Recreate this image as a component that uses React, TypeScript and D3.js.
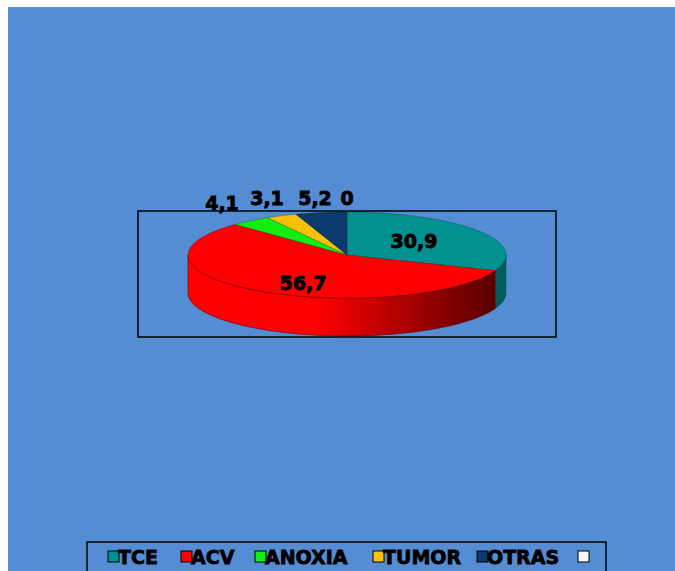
import React from "react";
import * as d3 from "d3";

const categories = ["TCE", "ACV", "ANOXIA", "TUMOR", "OTRAS", ""];
const values = [30.9, 56.7, 4.1, 3.1, 5.2, 0];
const labels = ["30,9", "56,7", "4,1", "3,1", "5,2", "0"];
const colors = ["#009190", "#ff0000", "#12ee12", "#f7c10a", "#0b3b6e", "#f2f8fc"];
const wallDark = ["#005c5c", "#5c0000", "#0a8a0a", "#9a7800", "#06203d", "#c0c0c0"];

const W = 675, H = 571;
const cx = 347, cy = 255, rx = 159, ry = 43, depth = 38;

function pt(theta: number, dy = 0): [number, number] {
  return [cx + rx * Math.sin(theta), cy - ry * Math.cos(theta) + dy];
}

function topPath(a0: number, a1: number) {
  const n = Math.max(2, Math.ceil(((a1 - a0) / (Math.PI * 2)) * 180));
  const pts: [number, number][] = [[cx, cy]];
  for (let i = 0; i <= n; i++) pts.push(pt(a0 + ((a1 - a0) * i) / n));
  return d3.line()(pts) + "Z";
}

function wallPath(a0: number, a1: number) {
  const n = Math.max(2, Math.ceil(((a1 - a0) / (Math.PI * 2)) * 180));
  const pts: [number, number][] = [];
  for (let i = 0; i <= n; i++) pts.push(pt(a0 + ((a1 - a0) * i) / n));
  for (let i = n; i >= 0; i--) pts.push(pt(a0 + ((a1 - a0) * i) / n, depth));
  return d3.line()(pts) + "Z";
}

const labelPos: [number, number][] = [
  [414, 248], [303, 290], [222, 210], [267, 205], [315, 205], [347, 205],
];

const legendX = [108, 181, 255, 373, 477, 578];

export default function App() {
  const pie = d3.pie<number>().sort(null).value((d) => d)(values);
  const front0 = Math.PI / 2, front1 = (Math.PI * 3) / 2;
  return (
    <svg width={W} height={H} style={{ position: "absolute", left: 0, top: 0 }}>
      <defs>
        {values.map((_, i) => (
          <linearGradient key={i} id={`g${i}`} gradientUnits="userSpaceOnUse" x1={cx - rx} x2={cx + rx} y1={0} y2={0}>
            <stop offset="0" stopColor={colors[i]} />
            <stop offset="0.4" stopColor={colors[i]} />
            <stop offset="0.95" stopColor={wallDark[i]} />
          </linearGradient>
        ))}
      </defs>
      <rect x={0} y={0} width={W} height={H} fill="#fff" />
      <rect x={8} y={7} width={W - 8} height={H - 7} fill="#558dd5" />
      <rect x={138} y={211} width={418} height={126} fill="none" stroke="#000" strokeWidth={1.5} />
      {pie.map((s, i) => {
        const a0 = Math.max(s.startAngle, front0), a1 = Math.min(s.endAngle, front1);
        if (a1 <= a0) return null;
        return <path key={"w" + i} d={wallPath(a0, a1)} fill={`url(#g${i})`} stroke={wallDark[i]} strokeWidth={0.6} />;
      })}
      {pie.map((s, i) =>
        s.endAngle > s.startAngle ? (
          <path key={"t" + i} d={topPath(s.startAngle, s.endAngle)} fill={colors[i]} stroke="rgba(0,0,0,0.35)" strokeWidth={0.6} />
        ) : null
      )}
      {labels.map((l, i) => (
        <text key={"l" + i} x={labelPos[i][0]} y={labelPos[i][1]} textAnchor="middle"
          fontFamily="DejaVu Sans" fontWeight="bold" fontSize={19} fill="#000"
          stroke="#000" strokeWidth={0.9}>{l}</text>
      ))}
      <rect x={87} y={542} width={519} height={40} fill="none" stroke="#000" strokeWidth={1.5} />
      {categories.map((c, i) => (
        <g key={"lg" + i}>
          <rect x={legendX[i]} y={551} width={11} height={11} fill={colors[i]} stroke="#000" strokeWidth={1} />
          <text x={legendX[i] + 10} y={564} fontFamily="DejaVu Sans" fontWeight="bold" fontSize={19}
            fill="#000" stroke="#000" strokeWidth={0.8}>{c}</text>
        </g>
      ))}
    </svg>
  );
}
